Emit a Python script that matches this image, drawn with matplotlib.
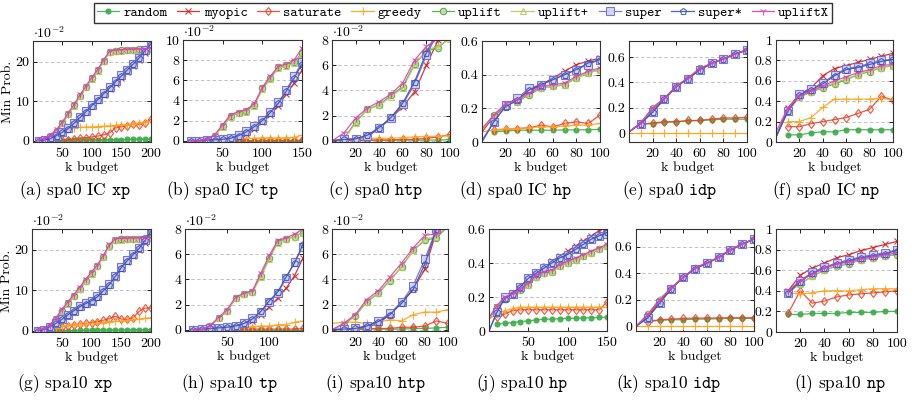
import numpy as np
import matplotlib
matplotlib.use('Agg')
import matplotlib.pyplot as plt

nan = np.nan

# ---------------- data ----------------
series = ['random', 'myopic', 'saturate', 'greedy', 'uplift', 'uplift+',
          'super', 'super*', 'upliftX']

x_200 = [10, 20, 30, 40, 50, 60, 70, 80, 90, 100, 110, 120, 130, 140, 150,
         160, 170, 180, 190, 200]
x_150 = [10, 20, 30, 40, 50, 60, 70, 80, 90, 100, 110, 120, 130, 140, 150]
x_140 = [10, 20, 30, 40, 50, 60, 70, 80, 90, 100, 110, 120, 130, 140]
x_100 = [0, 10, 20, 30, 40, 50, 60, 70, 80, 90, 100]
x_150z = [0, 10, 20, 30, 40, 50, 60, 70, 80, 90, 100, 110, 120, 130, 140, 150]
x_100n = [10, 20, 30, 40, 50, 60, 70, 80, 90, 100]

# (a) spa0 IC xp   (x 1e-2)
spa0_xp = {
    'random':   [0, 0, 0, 0, 0.05, 0.1, 0.1, 0.15, 0.2, 0.2, 0.2, 0.25, 0.25, 0.3, 0.3, 0.35, 0.35, 0.4, 0.4, 0.45],
    'myopic':   [0, 0.2, 0.5, 1.1, 2.0, 3.0, 4.3, 5.8, 7.3, 8.8, 10.2, 11.6, 13.0, 14.4, 15.8, 17.3, 18.8, 20.3, 22.2, 24.0],
    'saturate': [0, 0, 0, 0.1, 0.2, 0.3, 0.5, 0.7, 0.8, 1.0, 1.2, 1.5, 2.0, 3.3, 3.6, 3.8, 4.2, 4.1, 4.6, 5.4],
    'greedy':   [0, 0.1, 0.4, 1.2, 2.3, 3.0, 3.3, 3.4, 3.5, 3.5, 3.6, 3.7, 3.8, 3.9, 4.0, 4.1, 4.3, 4.5, 4.8, 5.0],
    'uplift':   [0, 0.3, 1.2, 2.5, 4.5, 6.8, 9.0, 11.4, 13.6, 15.8, 17.8, 20.2, 22.5, 22.8, 22.9, 23.0, 23.0, 23.1, 23.2, 23.3],
    'uplift+':  [0, 0.3, 1.1, 2.4, 4.4, 6.7, 8.9, 11.3, 13.5, 15.7, 17.7, 20.1, 22.4, 22.7, 22.8, 22.9, 22.9, 23.0, 23.1, 23.2],
    'super':    [0, 0.2, 0.6, 1.3, 2.2, 3.2, 4.6, 6.0, 7.5, 9.0, 10.5, 12.0, 13.5, 15.0, 16.5, 18.0, 19.5, 21.0, 23.0, 24.8],
    'super*':   [0, 0.2, 0.6, 1.3, 2.2, 3.1, 4.5, 5.9, 7.4, 8.9, 10.4, 11.9, 13.4, 14.9, 16.4, 17.9, 19.4, 20.9, 22.8, 24.5],
    'upliftX':  [0.2, 0.6, 1.5, 2.9, 4.8, 7.1, 9.3, 11.7, 13.9, 16.1, 18.1, 20.5, 22.7, 22.9, 23.0, 23.1, 23.1, 23.2, 23.3, 23.4],
}

# (b) spa0 IC tp   (x 1e-2)
spa0_tp = {
    'random':   [0, 0, 0, 0, 0, 0, 0, 0, 0, 0, 0, 0, 0, 0, 0],
    'myopic':   [0, 0, 0, 0, 0.05, 0.1, 0.3, 0.7, 1.2, 1.9, 2.6, 3.5, 4.6, 5.7, 7.0],
    'saturate': [0, 0, 0, 0, 0, 0, 0.02, 0.02, 0.02, 0.03, 0.03, 0.03, 0.03, 0.03, 0.05],
    'greedy':   [0, 0, 0, 0.05, 0.1, 0.15, 0.2, 0.25, 0.25, 0.3, 0.3, 0.3, 0.3, 0.35, 0.55],
    'uplift':   [0, 0, 0.1, 0.5, 1.5, 2.5, 2.8, 3.0, 3.6, 5.2, 6.2, 7.3, 7.5, 7.8, 8.7],
    'uplift+':  [0, 0, 0.1, 0.5, 1.4, 2.4, 2.8, 2.9, 3.5, 5.1, 6.1, 7.2, 7.4, 7.7, 8.6],
    'super':    [0, 0, 0.05, 0.1, 0.15, 0.3, 0.6, 1.0, 1.5, 2.1, 2.9, 3.8, 5.0, 6.4, 7.8],
    'super*':   [0, 0, 0.05, 0.1, 0.15, 0.25, 0.5, 0.9, 1.4, 2.0, 2.8, 3.7, 4.9, 6.2, 7.6],
    'upliftX':  [0, 0, 0.15, 0.6, 1.6, 2.6, 2.9, 3.1, 3.7, 5.3, 6.4, 7.4, 7.6, 8.0, 9.2],
}

# (c) spa0 htp   (x 1e-2)
spa0_htp = {
    'random':   [0, 0.05, 0.05, 0.05, 0.05, 0.05, 0.05, 0.05, 0.05, 0.05, 0.1],
    'myopic':   [0, 0.05, 0.1, 0.3, 1.0, 1.8, 2.7, 3.9, 6.0, 8.0, 9.5],
    'saturate': [0, 0.02, 0.02, 0.05, 0.05, 0.05, 0.1, 0.1, 0.2, 0.3, 0.5],
    'greedy':   [0, 0.1, 0.15, 0.2, 0.2, 0.2, 0.25, 0.3, 0.35, 0.35, 0.4],
    'uplift':   [0, 0.15, 1.5, 2.5, 2.85, 3.6, 4.3, 6.1, 7.1, 7.4, 8.2],
    'uplift+':  [0, 0.1, 1.4, 2.5, 2.8, 3.5, 4.2, 6.0, 7.2, 7.5, 8.1],
    'super':    [0, 0.1, 0.15, 0.4, 1.0, 1.8, 2.9, 4.5, 6.8, 8.6, 10.0],
    'super*':   [0, 0.1, 0.15, 0.45, 1.05, 1.85, 3.0, 4.7, 7.0, 8.8, 10.2],
    'upliftX':  [0, 0.6, 1.8, 2.6, 3.1, 3.7, 4.6, 6.4, 7.5, 8.1, 9.0],
}

# (d) spa0 IC hp
spa0_hp = {
    'random':   [nan, 0.06, 0.065, 0.07, 0.07, 0.07, 0.07, 0.072, 0.072, 0.073, 0.075],
    'myopic':   [0.06, 0.15, 0.22, 0.26, 0.30, 0.34, 0.38, 0.42, 0.46, 0.48, 0.50],
    'saturate': [nan, 0.07, 0.075, 0.08, 0.085, 0.10, 0.09, 0.11, 0.12, 0.11, 0.16],
    'greedy':   [0.06, 0.07, 0.08, 0.08, 0.085, 0.09, 0.09, 0.095, 0.10, 0.10, 0.11],
    'uplift':   [0.07, 0.16, 0.22, 0.24, 0.28, 0.32, 0.33, 0.34, 0.38, 0.41, 0.43],
    'uplift+':  [0.07, 0.16, 0.22, 0.24, 0.29, 0.32, 0.33, 0.34, 0.38, 0.41, 0.43],
    'super':    [0.01, 0.12, 0.22, 0.26, 0.32, 0.34, 0.37, 0.40, 0.43, 0.46, 0.49],
    'super*':   [0.0, 0.12, 0.21, 0.25, 0.31, 0.34, 0.37, 0.40, 0.43, 0.47, 0.49],
    'upliftX':  [0.08, 0.16, 0.23, 0.25, 0.29, 0.33, 0.34, 0.35, 0.39, 0.42, 0.44],
}

# (e) spa0 idp
spa0_idp = {
    'random':   [nan, 0.07, 0.075, 0.085, 0.09, 0.095, 0.10, 0.105, 0.11, 0.11, 0.11],
    'myopic':   [0.01, 0.08, 0.19, 0.27, 0.37, 0.43, 0.50, 0.55, 0.585, 0.625, 0.655],
    'saturate': [nan, 0.07, 0.08, 0.09, 0.09, 0.10, 0.10, 0.11, 0.12, 0.12, 0.125],
    'greedy':   [0, 0, 0, 0, 0, 0, 0, 0, 0, 0, 0],
    'uplift':   [0.01, 0.08, 0.20, 0.275, 0.37, 0.435, 0.51, 0.55, 0.587, 0.626, 0.657],
    'uplift+':  [0.01, 0.08, 0.20, 0.275, 0.37, 0.435, 0.51, 0.55, 0.587, 0.626, 0.657],
    'super':    [0.01, 0.075, 0.165, 0.27, 0.365, 0.43, 0.50, 0.55, 0.585, 0.625, 0.655],
    'super*':   [0.01, 0.075, 0.165, 0.27, 0.365, 0.43, 0.50, 0.55, 0.585, 0.625, 0.655],
    'upliftX':  [0.01, 0.08, 0.20, 0.275, 0.37, 0.435, 0.51, 0.55, 0.587, 0.626, 0.657],
}

# (f) spa0 IC np
spa0_np = {
    'random':   [nan, 0.07, 0.07, 0.09, 0.10, 0.10, 0.12, 0.12, 0.12, 0.12, 0.12],
    'myopic':   [0.05, 0.33, 0.47, 0.53, 0.65, 0.72, 0.75, 0.78, 0.81, 0.84, 0.87],
    'saturate': [nan, 0.15, 0.15, 0.18, 0.20, 0.22, 0.24, 0.28, 0.32, 0.45, 0.41],
    'greedy':   [nan, 0.20, 0.20, 0.24, 0.34, 0.42, 0.42, 0.42, 0.42, 0.43, 0.41],
    'uplift':   [0.05, 0.30, 0.44, 0.49, 0.53, 0.57, 0.61, 0.66, 0.69, 0.73, 0.75],
    'uplift+':  [0.05, 0.30, 0.44, 0.49, 0.54, 0.58, 0.62, 0.66, 0.70, 0.73, 0.75],
    'super':    [0.05, 0.30, 0.47, 0.52, 0.58, 0.66, 0.72, 0.74, 0.77, 0.80, 0.81],
    'super*':   [0.05, 0.30, 0.46, 0.51, 0.57, 0.65, 0.71, 0.73, 0.76, 0.79, 0.81],
    'upliftX':  [0.10, 0.33, 0.45, 0.50, 0.55, 0.60, 0.64, 0.68, 0.71, 0.75, 0.76],
}

# (g) spa10 xp   (x 1e-2)
spa10_xp = {
    'random':   [0, 0, 0, 0, 0, 0.05, 0.05, 0.1, 0.1, 0.1, 0.15, 0.15, 0.15, 0.2, 0.2, 0.2, 0.25, 0.25, 0.3, 0.3],
    'myopic':   [0, 0.3, 1.0, 1.8, 2.8, 3.9, 4.9, 5.8, 6.6, 7.2, 8.3, 9.7, 11.2, 13.0, 15.3, 17.0, 18.5, 19.8, 21.6, 24.4],
    'saturate': [0, 0, 0.2, 0.5, 1.0, 1.2, 1.4, 1.6, 1.8, 2.0, 2.2, 2.6, 3.0, 3.6, 2.9, 2.8, 3.2, 4.8, 5.6, 5.6],
    'greedy':   [0, 0, 0.5, 0.8, 1.2, 1.4, 1.5, 1.6, 1.7, 1.8, 1.9, 2.0, 2.2, 2.3, 2.4, 2.6, 2.8, 2.9, 3.1, 3.2],
    'uplift':   [0, 0.2, 1.2, 2.8, 5.0, 6.8, 8.6, 10.4, 12.4, 14.2, 16.0, 18.3, 21.0, 22.5, 22.6, 22.6, 22.7, 22.7, 22.8, 22.9],
    'uplift+':  [0, 0.2, 1.1, 2.7, 4.9, 6.7, 8.5, 10.3, 12.3, 14.1, 15.9, 18.2, 20.9, 22.4, 22.5, 22.6, 22.6, 22.7, 22.7, 22.8],
    'super':    [0, 0.3, 1.0, 1.8, 2.8, 4.0, 5.0, 6.0, 6.8, 7.4, 8.5, 10.0, 11.5, 13.5, 15.8, 17.5, 19.0, 20.5, 22.5, 24.8],
    'super*':   [0, 0.3, 1.0, 1.8, 2.8, 3.9, 4.9, 5.9, 6.7, 7.4, 8.4, 9.9, 11.4, 13.4, 15.6, 17.3, 18.8, 20.3, 22.3, 24.6],
    'upliftX':  [0.2, 0.5, 1.5, 3.1, 5.3, 7.1, 8.9, 10.7, 12.7, 14.5, 16.3, 18.6, 21.3, 22.7, 22.8, 22.8, 22.9, 22.9, 23.0, 23.0],
}

# (h) spa10 tp   (x 1e-2)
spa10_tp = {
    'random':   [0, 0, 0, 0, 0, 0, 0, 0, 0, 0, 0, 0, 0, 0],
    'myopic':   [0, 0, 0, 0.05, 0.1, 0.2, 0.4, 0.7, 1.2, 1.8, 2.5, 3.3, 4.3, 5.7],
    'saturate': [0, 0, 0.02, 0.02, 0.03, 0.05, 0.05, 0.05, 0.05, 0.05, 0.05, 0.05, 0.05, 0.1],
    'greedy':   [0.05, 0.05, 0.05, 0.1, 0.1, 0.1, 0.2, 0.25, 0.3, 0.3, 0.4, 0.4, 0.6, 0.7],
    'uplift':   [0, 0, 0.3, 0.9, 1.5, 2.5, 2.8, 3.0, 4.3, 5.7, 7.0, 7.2, 7.4, 7.7],
    'uplift+':  [0, 0, 0.3, 0.9, 1.5, 2.5, 2.8, 3.0, 4.2, 5.6, 6.9, 7.2, 7.4, 7.7],
    'super':    [0, 0.05, 0.1, 0.15, 0.2, 0.3, 0.55, 0.9, 1.4, 2.2, 2.9, 4.1, 5.4, 6.6],
    'super*':   [0, 0.05, 0.1, 0.15, 0.2, 0.3, 0.5, 0.85, 1.45, 2.3, 3.0, 4.2, 5.3, 6.8],
    'upliftX':  [0, 0, 0.35, 1.0, 1.6, 2.6, 2.9, 3.1, 4.5, 5.9, 7.1, 7.3, 7.6, 8.0],
}

# (i) spa10 htp   (x 1e-2)
spa10_htp = {
    'random':   [0, 0, 0, 0.05, 0.05, 0.05, 0.05, 0.1, 0.1, 0.15, 0.2],
    'myopic':   [0, 0.05, 0.1, 0.2, 0.5, 1.2, 2.2, 3.2, 4.8, 7.8, 9.0],
    'saturate': [0, 0.05, 0.05, 0.1, 0.1, 0.1, 0.2, 0.2, 0.3, 0.7, 0.5],
    'greedy':   [0.5, 0.6, 0.6, 0.5, 0.6, 0.8, 0.7, 1.2, 1.4, 1.4, 1.6],
    'uplift':   [0, 0.4, 1.1, 2.2, 2.9, 3.9, 5.0, 6.3, 7.1, 7.3, 8.2],
    'uplift+':  [0, 0.45, 1.15, 2.2, 2.95, 3.95, 5.0, 6.3, 7.2, 7.4, 8.3],
    'super':    [0, 0.05, 0.1, 0.3, 0.7, 1.3, 2.2, 3.5, 5.6, 8.0, 10.0],
    'super*':   [0, 0.05, 0.1, 0.3, 0.65, 1.2, 2.1, 3.2, 5.2, 8.0, 10.0],
    'upliftX':  [0, 0.5, 1.2, 2.4, 3.1, 4.2, 5.3, 6.5, 7.5, 7.6, 8.5],
}

# (j) spa10 hp
spa10_hp = {
    'random':   [nan, 0.04, 0.045, 0.05, 0.055, 0.06, 0.065, 0.07, 0.07, 0.072, 0.075, 0.075, 0.077, 0.078, 0.08, 0.08],
    'myopic':   [0.07, 0.14, 0.19, 0.22, 0.25, 0.29, 0.34, 0.37, 0.41, 0.44, 0.47, 0.50, 0.53, 0.56, 0.59, 0.61],
    'saturate': [nan, 0.08, 0.10, 0.12, 0.125, 0.125, 0.125, 0.125, 0.125, 0.125, 0.125, 0.125, 0.125, 0.125, 0.125, 0.17],
    'greedy':   [0.07, 0.10, 0.12, 0.13, 0.14, 0.14, 0.14, 0.14, 0.14, 0.14, 0.14, 0.14, 0.14, 0.14, 0.14, 0.14],
    'uplift':   [0.07, 0.14, 0.19, 0.21, 0.24, 0.27, 0.32, 0.34, 0.35, 0.38, 0.40, 0.42, 0.44, 0.46, 0.48, 0.50],
    'uplift+':  [0.07, 0.14, 0.19, 0.21, 0.24, 0.27, 0.32, 0.34, 0.35, 0.38, 0.40, 0.42, 0.44, 0.46, 0.48, 0.50],
    'super':    [0.0, 0.11, 0.20, 0.22, 0.26, 0.31, 0.34, 0.37, 0.40, 0.43, 0.45, 0.48, 0.51, 0.54, 0.56, 0.57],
    'super*':   [0.0, 0.11, 0.19, 0.22, 0.26, 0.31, 0.34, 0.37, 0.40, 0.43, 0.45, 0.48, 0.51, 0.54, 0.56, 0.58],
    'upliftX':  [0.08, 0.15, 0.20, 0.22, 0.25, 0.28, 0.33, 0.35, 0.36, 0.39, 0.41, 0.43, 0.45, 0.47, 0.49, 0.51],
}

# (k) spa10 idp
spa10_idp = {
    'random':   [nan, 0.045, 0.045, 0.05, 0.05, 0.055, 0.055, 0.058, 0.06, 0.06, 0.06],
    'myopic':   [0.0, 0.08, 0.19, 0.29, 0.37, 0.44, 0.48, 0.52, 0.58, 0.62, 0.66],
    'saturate': [nan, 0.03, 0.05, 0.055, 0.06, 0.062, 0.063, 0.064, 0.065, 0.065, 0.065],
    'greedy':   [0, 0, 0, 0, 0, 0, 0, 0, 0, 0, 0],
    'uplift':   [0.0, 0.09, 0.20, 0.29, 0.37, 0.44, 0.48, 0.52, 0.58, 0.62, 0.66],
    'uplift+':  [0.0, 0.09, 0.21, 0.29, 0.37, 0.44, 0.48, 0.52, 0.58, 0.62, 0.66],
    'super':    [0.0, 0.065, 0.175, 0.285, 0.37, 0.435, 0.475, 0.52, 0.575, 0.62, 0.66],
    'super*':   [0.0, 0.065, 0.175, 0.285, 0.37, 0.435, 0.475, 0.52, 0.575, 0.62, 0.66],
    'upliftX':  [0.0, 0.09, 0.20, 0.29, 0.37, 0.44, 0.48, 0.52, 0.58, 0.62, 0.66],
}

# (l) spa10 np
spa10_np = {
    'random':   [0.17, 0.17, 0.18, 0.18, 0.18, 0.19, 0.19, 0.19, 0.20, 0.20],
    'myopic':   [0.40, 0.55, 0.62, 0.67, 0.72, 0.75, 0.79, 0.82, 0.85, 0.88],
    'saturate': [0.18, 0.40, 0.28, 0.30, 0.34, 0.36, 0.37, 0.38, 0.39, 0.40],
    'greedy':   [0.38, 0.37, 0.38, 0.40, 0.40, 0.40, 0.41, 0.42, 0.42, 0.42],
    'uplift':   [0.38, 0.47, 0.54, 0.60, 0.64, 0.66, 0.70, 0.72, 0.74, 0.75],
    'uplift+':  [0.38, 0.47, 0.54, 0.60, 0.64, 0.67, 0.70, 0.72, 0.74, 0.76],
    'super':    [0.38, 0.50, 0.58, 0.63, 0.67, 0.70, 0.73, 0.75, 0.77, 0.80],
    'super*':   [0.38, 0.49, 0.57, 0.62, 0.66, 0.69, 0.72, 0.74, 0.76, 0.79],
    'upliftX':  [0.40, 0.50, 0.56, 0.62, 0.66, 0.68, 0.71, 0.73, 0.75, 0.77],
}

# ---------------- styles ----------------
style = {
    'random':   dict(color='#3cae4a', marker='o', ms=3.6, mfc='#3cae4a'),
    'myopic':   dict(color='#d42020', marker='x', ms=4.5, mfc='none'),
    'saturate': dict(color='#ee4128', marker='d', ms=4.5, mfc='none'),
    'greedy':   dict(color='#ffa41c', marker='+', ms=5.5, mfc='none'),
    'uplift':   dict(color='#4aa548', marker='o', ms=4.6, mfc='#c4dfa8'),
    'uplift+':  dict(color='#b9c65e', marker='^', ms=4.3, mfc='none'),
    'super':    dict(color='#6a6ad8', marker='s', ms=5.6, mfc='#d4d4f4'),
    'super*':   dict(color='#3a52b8', marker='p', ms=4.8, mfc='none'),
    'upliftX':  dict(color='#e43cb4', marker='1', ms=6, mfc='none'),
}

plt.rcParams['font.family'] = 'cmr10'
plt.rcParams['mathtext.fontset'] = 'cm'
plt.rcParams['axes.unicode_minus'] = False
plt.rcParams['font.size'] = 10

fig = plt.figure(figsize=(9.15, 4.0), dpi=100)
W, H = 915.0, 400.0

def frac(l, r, t, b):
    return [l / W, 1 - b / H, (r - l) / W, (b - t) / H]

panels = [
    # data, x, box px (l, r, t, b), xlim, xticks, ylim, yticks, ylabels, scaled, caption, caption xy
    (spa0_xp, x_200, (33, 151, 41, 142), (0, 200), [50, 100, 150, 200], (-0.3, 25.2), [0, 10, 20], ['0', '10', '20'], True, r'(a) spa0 IC $\mathtt{xp}$', (75, 191)),
    (spa0_tp, x_150, (183, 302, 40, 142), (0, 150), [50, 100, 150], (-0.12, 10), [0, 2, 4, 6, 8, 10], ['0', '2', '4', '6', '8', '10'], True, r'(b) spa0 IC $\mathtt{tp}$', (222, 191)),
    (spa0_htp, x_100, (332, 450, 40, 142), (0, 100), [20, 40, 60, 80, 100], (-0.1, 8), [0, 2, 4, 6, 8], ['0', '2', '4', '6', '8'], True, r'(c) spa0 $\mathtt{htp}$', (376, 191)),
    (spa0_hp, x_100, (482, 600, 41, 142), (0, 100), [20, 40, 60, 80, 100], (0, 0.6), [0, 0.2, 0.4, 0.6], ['0', '0.2', '0.4', '0.6'], False, r'(d) spa0 IC $\mathtt{hp}$', (515, 191)),
    (spa0_idp, x_100, (629, 747, 41, 142), (0, 100), [20, 40, 60, 80, 100], (-0.07, 0.727), [0, 0.2, 0.4, 0.6], ['0', '0.2', '0.4', '0.6'], False, r'(e) spa0 $\mathtt{idp}$', (670, 191)),
    (spa0_np, x_100, (776, 893, 40, 142), (0, 100), [20, 40, 60, 80, 100], (0, 1), [0, 0.2, 0.4, 0.6, 0.8, 1], ['0', '0.2', '0.4', '0.6', '0.8', '1'], False, r'(f) spa0 IC $\mathtt{np}$', (826, 191)),
    (spa10_xp, x_200, (32, 151, 229, 332), (0, 200), [50, 100, 150, 200], (-0.3, 25.1), [0, 10, 20], ['0', '10', '20'], True, r'(g) spa10 $\mathtt{xp}$', (65, 384)),
    (spa10_tp, x_140, (185, 303, 229, 331), (0, 140), [50, 100], (-0.1, 8), [0, 2, 4, 6, 8], ['0', '2', '4', '6', '8'], True, r'(h) spa10 $\mathtt{tp}$', (229, 384)),
    (spa10_htp, x_100, (332, 448, 229, 331), (0, 100), [20, 40, 60, 80, 100], (-0.1, 8), [0, 2, 4, 6, 8], ['0', '2', '4', '6', '8'], True, r'(i) spa10 $\mathtt{htp}$', (376, 384)),
    (spa10_hp, x_150z, (489, 607, 229, 331), (0, 150), [50, 100, 150], (0, 0.6), [0, 0.2, 0.4, 0.6], ['0', '0.2', '0.4', '0.6'], False, r'(j) spa10 $\mathtt{hp}$', (522, 384)),
    (spa10_idp, x_100, (636, 754, 229, 331), (0, 100), [20, 40, 60, 80, 100], (-0.035, 0.735), [0, 0.2, 0.4, 0.6], ['0', '0.2', '0.4', '0.6'], False, r'(k) spa10 $\mathtt{idp}$', (669, 384)),
    (spa10_np, x_100n, (776, 897, 229, 332), (0, 100), [20, 40, 60, 80, 100], (0, 1), [0, 0.2, 0.4, 0.6, 0.8, 1], ['0', '0.2', '0.4', '0.6', '0.8', '1'], False, r'(l) spa10 $\mathtt{np}$', (840, 384)),
]

handles = []
for idx, (data, xs, box, xlim, xticks, ylim, yticks, ylabels, scaled, caption, cap) in enumerate(panels):
    ax = fig.add_axes(frac(*box))
    marks = [i for i, v in enumerate(xs) if v > 0]
    for name in series:
        st = style[name]
        ys = np.array(data[name], dtype=float)
        line, = ax.plot(xs, ys, color=st['color'], lw=0.9, alpha=0.9,
                        marker=st['marker'], ms=st['ms'], mfc=st['mfc'],
                        mec=st['color'], mew=0.8, markevery=marks,
                        label=name)
        if idx == 0:
            handles.append(line)
    ax.set_xlim(*xlim)
    ax.set_ylim(*ylim)
    ax.set_xticks(xticks)
    ax.set_xticklabels([str(t) for t in xticks])
    ax.set_yticks(yticks)
    ax.set_yticklabels(ylabels)
    ax.yaxis.grid(True, linestyle=(0, (4, 3)), color='#b5b5b5', lw=0.6)
    ax.set_axisbelow(True)
    ax.tick_params(direction='in', top=True, right=True, length=3, width=0.6,
                   pad=2.5, labelsize=10)
    ax.tick_params(axis='x', pad=4)
    for sp in ax.spines.values():
        sp.set_linewidth(0.8)
        sp.set_color('#333333')
    ax.set_xlabel('k budget', labelpad=1)
    if idx in (0, 6):
        ax.set_ylabel('Min Prob.', labelpad=1)
    if scaled:
        ax.text(0.0, 1.0, r'$\cdot 10^{-2}$', transform=ax.transAxes,
                ha='left', va='bottom', fontsize=10)
    fig.text(cap[0] / W, 1 - cap[1] / H, caption, ha='center', va='center',
             fontsize=12.5)

fig.legend(handles=handles, loc='center', bbox_to_anchor=(0.506, 0.9675),
           ncol=9, frameon=True, fancybox=False, edgecolor='black',
           handlelength=1.6, handletextpad=0.3, columnspacing=0.7,
           borderpad=0.25, prop={'family': 'cmtt10', 'size': 10})

fig.savefig('out.png', dpi=100)
